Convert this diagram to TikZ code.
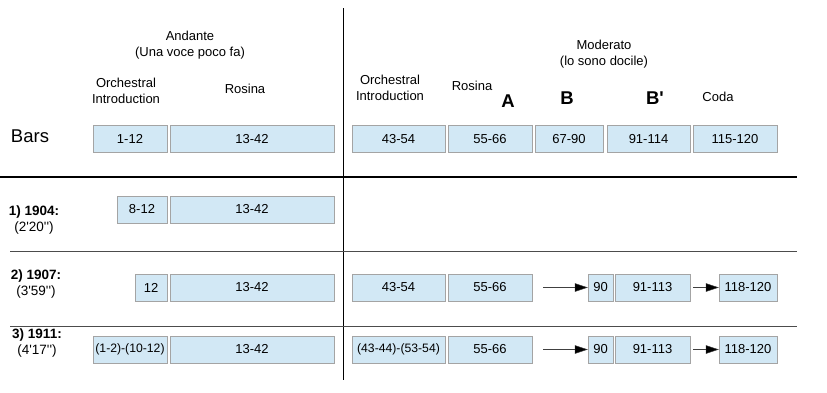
\documentclass[tikz,border=0pt]{standalone}
\usepackage{fontspec}
\setmainfont{Liberation Sans}
\usetikzlibrary{arrows.meta}

\definecolor{barfill}{HTML}{D2E8F5}
\definecolor{barline}{HTML}{A4A4A4}
\newcommand{\apos}{\textquotesingle}

\begin{document}
\begin{tikzpicture}[x=1pt,y=-1pt,
    bar/.style={draw=barline,fill=barfill,minimum height=27pt,inner sep=0pt,font=\fontsize{13}{13}\selectfont},
    head/.style={align=center,font=\fontsize{13}{15.5}\selectfont},
    sect/.style={font=\fontsize{18.5}{18}\selectfont\bfseries},
    year/.style={align=center,font=\fontsize{13.5}{16}\selectfont},
    arr/.style={-{Triangle[length=13pt,width=8.5pt,fill=black]},black!75}]
    \useasboundingbox (0,0) rectangle (827,392);
    % rules
    \draw (343,8) -- (343,380);
    \draw[line width=2pt] (0,177) -- (797,177);
    \draw[black!70] (10,251) -- (797,251);
    \draw[black!70] (10,326) -- (797,326);
    % headings
    \node[head] (andante) at (190,45) {Andante\\(Una voce poco fa)};
    \node[head] (orch1) at (126,91) {Orchestral\\Introduction};
    \node[head] (ros1) at (245,89) {Rosina};
    \node[head] (moderato) at (604,54) {Moderato\\(lo sono docile)};
    \node[head] (orch2) at (390,88) {Orchestral\\Introduction};
    \node[head] (ros2) at (472,86) {Rosina};
    \node[sect] (secA) at (508,101) {A};
    \node[sect] (secB) at (567,98) {B};
    \node[sect] (secBp) at (655,98) {B\apos};
    \node[head] (coda) at (718,97) {Coda};
    \node[font=\fontsize{18.5}{18}\selectfont] (bars) at (30,136) {Bars};
    % bars
    \node[bar,minimum width=74pt] (b1) at (130,139) {1-12};
    \node[bar,minimum width=164pt] (b2) at (252,139) {13-42};
    \node[bar,minimum width=93pt] (b3) at (398.5,139) {43-54};
    \node[bar,minimum width=84pt] (b4) at (490,139) {55-66};
    \node[bar,minimum width=68pt] (b5) at (569,139) {67-90};
    \node[bar,minimum width=83pt] (b6) at (648.5,139) {91-114};
    \node[bar,minimum width=84pt] (b7) at (735,139) {115-120};
    % 1904
    \node[year] (y1) at (34,220) {\textbf{1) 1904:}\\(2\apos20\apos\apos)};
    \node[bar,minimum width=50pt] (r1a) at (142,209.5) {8-12};
    \node[bar,minimum width=164pt] (r1b) at (252,209.5) {13-42};
    % 1907
    \node[year] (y2) at (36,284) {\textbf{2) 1907:}\\(3\apos59\apos\apos)};
    \node[bar,minimum width=32pt] (r2a) at (151,287.5) {12};
    \node[bar,minimum width=164pt] (r2b) at (252,287.5) {13-42};
    \node[bar,minimum width=93pt] (r2c) at (398.5,287.5) {43-54};
    \node[bar,minimum width=84pt] (r2d) at (490,287.5) {55-66};
    \node[bar,minimum width=25pt] (r2e) at (600.5,287.5) {90};
    \node[bar,minimum width=75pt] (r2f) at (652.5,287.5) {91-113};
    \node[bar,minimum width=58pt] (r2g) at (748,287.5) {118-120};
    \coordinate (r2s) at (543,287.5);
    \coordinate (r2t) at (693,287.5);
    \draw[arr] (r2s) -- (r2e.west);
    \draw[arr] (r2t) -- (r2g.west);
    % 1911
    \node[year] (y3) at (37,343) {\textbf{3) 1911:}\\(4\apos17\apos\apos)};
    \node[bar,minimum width=74pt,font=\fontsize{12.2}{13}\selectfont] (r3a) at (130,349.5) {(1-2)-(10-12)};
    \node[bar,minimum width=164pt] (r3b) at (252,349.5) {13-42};
    \node[bar,minimum width=93pt,font=\fontsize{12.2}{13}\selectfont] (r3c) at (398.5,349.5) {(43-44)-(53-54)};
    \node[bar,minimum width=84pt] (r3d) at (490,349.5) {55-66};
    \node[bar,minimum width=25pt] (r3e) at (600.5,349.5) {90};
    \node[bar,minimum width=75pt] (r3f) at (652.5,349.5) {91-113};
    \node[bar,minimum width=58pt] (r3g) at (748,349.5) {118-120};
    \coordinate (r3s) at (543,349.5);
    \coordinate (r3t) at (693,349.5);
    \draw[arr] (r3s) -- (r3e.west);
    \draw[arr] (r3t) -- (r3g.west);
\end{tikzpicture}
\end{document}
